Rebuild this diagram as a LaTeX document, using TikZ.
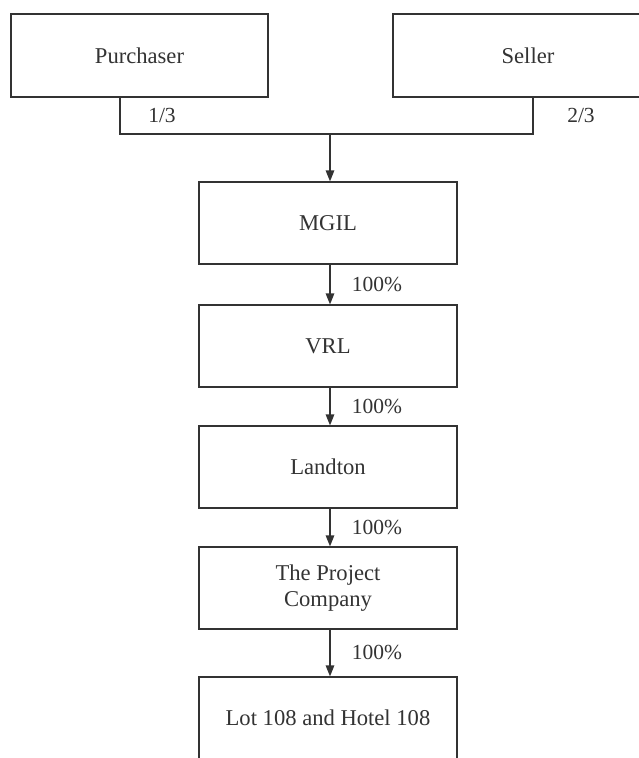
\documentclass[tikz,border=0pt]{standalone}
\usepackage{fontspec}
\setmainfont{Liberation Serif}
\usetikzlibrary{arrows.meta}
\definecolor{ink}{gray}{0.2}
\tikzset{
  box/.style={draw=ink, line width=1.2pt, minimum height=82pt, inner sep=0pt, align=center,
    text=ink, font=\fontsize{22.6}{25.5}\selectfont},
  lbl/.style={text=ink, inner sep=0pt, font=\fontsize{21.5}{24}\selectfont},
  link/.style={draw=ink, line width=1.2pt},
  arr/.style={link, -{Triangle[width=8.5pt,length=11pt]}}
}
\begin{document}
\begin{tikzpicture}[x=1pt,y=-1pt]
\useasboundingbox (0,0) rectangle (639,758);
\clip (0,0) rectangle (639,758);
\fill[white] (0,0) rectangle (639,758);
\node[box, minimum width=257pt, minimum height=83pt] (pur) at (139.5,55.5) {Purchaser};
\node[box, minimum width=270pt, minimum height=83pt] (sel) at (528,55.5) {Seller};
\node[box, minimum width=258pt] (mgil) at (328,223) {MGIL};
\node[box, minimum width=258pt] (vrl) at (328,346) {VRL};
\node[box, minimum width=258pt] (land) at (328,467) {Landton};
\node[box, minimum width=258pt] (proj) at (328,588) {The Project\\Company};
\node[box, minimum width=258pt] (lot) at (328,718) {Lot 108 and Hotel 108};
\coordinate (pjx) at (120,0);
\coordinate (sjx) at (533,0);
\coordinate (j) at (330,134);
\draw[link] (pur.south -| pjx) |- (j) -| (sel.south -| sjx);
\draw[arr] (j) -- (mgil.north -| j);
\draw[arr] (mgil.south -| j) -- (vrl.north -| j);
\draw[arr] (vrl.south -| j) -- (land.north -| j);
\draw[arr] (land.south -| j) -- (proj.north -| j);
\draw[arr] (proj.south -| j) -- (lot.north -| j);
\node[lbl] (l13) at (162,115) {1/3};
\node[lbl] (l23) at (581,115) {2/3};
\node[lbl] (p1) at (377,284) {100\%};
\node[lbl] (p2) at (377,406) {100\%};
\node[lbl] (p3) at (377,527) {100\%};
\node[lbl] (p4) at (377,652) {100\%};
\end{tikzpicture}
\end{document}
